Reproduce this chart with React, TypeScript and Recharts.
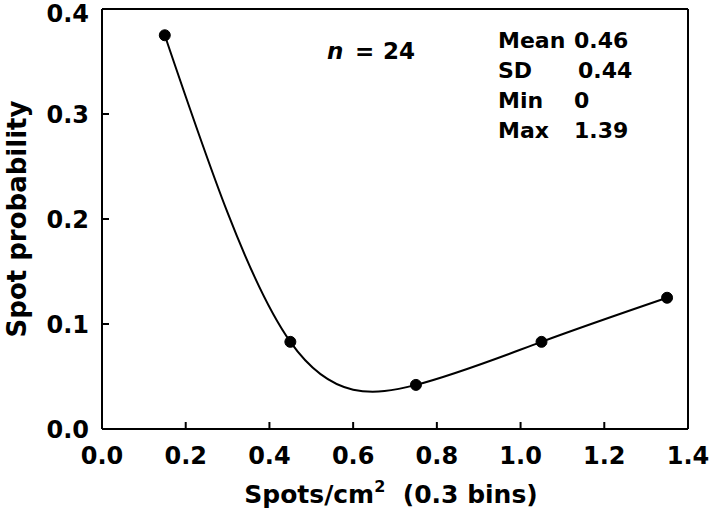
import React from "react";
import {
  LineChart,
  Line,
  XAxis,
  YAxis,
  ReferenceLine,
  Customized,
} from "recharts";

const binCenters = [0.15, 0.45, 0.75, 1.05, 1.35];
const probabilities = [0.375, 0.083, 0.042, 0.083, 0.125];
const xTicks = [0, 0.2, 0.4, 0.6, 0.8, 1.0, 1.2, 1.4];
const yTicks = [0, 0.1, 0.2, 0.3, 0.4];
const statLabels = ["Mean", "SD", "Min", "Max"];
const statValues = ["0.46", "0.44", "0", "1.39"];
const statValueX = [574, 578, 574, 574];
const sampleSize = 24;

const data = binCenters.map((x, i) => ({ x, p: probabilities[i] }));

const FONT = "'DejaVu Sans', Verdana, sans-serif";

const YTick = (props: any) => {
  const { x, y, payload } = props;
  return (
    <text
      x={x}
      y={Math.max(y, 13)}
      dy="0.355em"
      textAnchor="end"
      fill="#000"
      fontSize={24}
      fontWeight="bold"
      fontFamily={FONT}
    >
      {Number(payload.value).toFixed(1)}
    </text>
  );
};

const Annotations = () => (
  <g fontFamily={FONT} fontWeight="bold" fontSize={22} fill="#000">
    <text y={59} fontSize={23}>
      <tspan x={327} fontStyle="italic">n</tspan>
      <tspan x={355}>=</tspan>
      <tspan x={383}>{sampleSize}</tspan>
    </text>
    {statLabels.map((l, i) => (
      <text key={l} x={498} y={48 + i * 30}>
        {l}
      </text>
    ))}
    {statValues.map((v, i) => (
      <text key={i} x={statValueX[i]} y={48 + i * 30}>
        {v}
      </text>
    ))}
    <text
      transform="translate(26,219) rotate(-90)"
      textAnchor="middle"
      fontSize={26}
    >
      Spot probability
    </text>
    <text x={391} y={503} textAnchor="middle" fontSize={25}>
      <tspan>Spots/cm</tspan>
      <tspan fontSize={16} dy={-11}>2</tspan>
      <tspan dy={11}>{"\u00a0 (0.3 bins)"}</tspan>
    </text>
  </g>
);

export default function App() {
  return (
    <div style={{ position: "absolute", left: 0, top: 0, background: "#fff" }}>
      <LineChart
        width={709}
        height={523}
        data={data}
        margin={{ top: 9, right: 21, bottom: 0, left: 0 }}
      >
        <XAxis
          dataKey="x"
          type="number"
          domain={[0, 1.4]}
          ticks={xTicks}
          tickFormatter={(v: number) => v.toFixed(1)}
          height={94}
          tickSize={-7}
          tickMargin={25}
          axisLine={{ stroke: "#000", strokeWidth: 2 }}
          tickLine={{ stroke: "#000", strokeWidth: 2 }}
          tick={{ fill: "#000", fontSize: 24, fontWeight: "bold", fontFamily: FONT }}
          interval={0}
        />
        <YAxis
          type="number"
          domain={[0, 0.4]}
          ticks={yTicks}
          width={102}
          tickSize={-7}
          tickMargin={20}
          axisLine={{ stroke: "#000", strokeWidth: 2 }}
          tickLine={{ stroke: "#000", strokeWidth: 2 }}
          tick={<YTick />}
          interval={0}
        />
        <ReferenceLine y={0.4} stroke="#000" strokeWidth={2} ifOverflow="visible" />
        <ReferenceLine x={1.4} stroke="#000" strokeWidth={2} ifOverflow="visible" />
        <Line
          type="natural"
          dataKey="p"
          stroke="#000"
          strokeWidth={2}
          dot={{ r: 5.5, fill: "#000", stroke: "#000", strokeWidth: 1 }}
          isAnimationActive={false}
        />
        <Customized component={Annotations} />
      </LineChart>
    </div>
  );
}
